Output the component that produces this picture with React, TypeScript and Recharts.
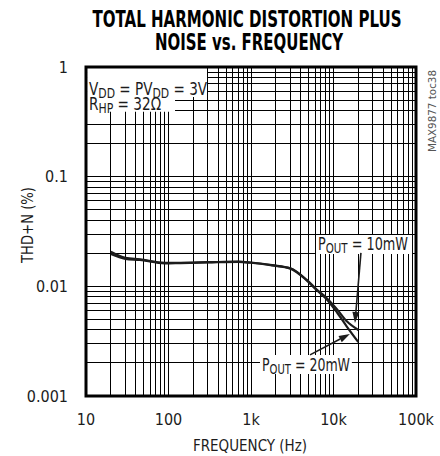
import {
  CartesianGrid,
  ComposedChart,
  Line,
  ReferenceArea,
  ReferenceDot,
  ReferenceLine,
  XAxis,
  YAxis,
} from 'recharts';

const freq = [20, 30, 45, 90, 140, 300, 700, 1000, 1800, 3000, 4700, 6300, 8300, 11000, 14500, 20000];
const thd10mW = [0.0207, 0.0182, 0.0176, 0.0164, 0.0164, 0.0166, 0.0168, 0.0165, 0.0156, 0.0146, 0.0115, 0.0093, 0.0078, 0.0062, 0.0048, 0.004];
const thd20mW = [0.0197, 0.0178, 0.0174, 0.0162, 0.0163, 0.0165, 0.0167, 0.0164, 0.0155, 0.0145, 0.0114, 0.0092, 0.0076, 0.0058, 0.0043, 0.0031];

const xTicks = [10, 100, 1000, 10000, 100000];
const xTickLabels = ['10', '100', '1k', '10k', '100k'];
const yTicks = [0.001, 0.01, 0.1, 1];
const yTickLabels = ['0.001', '0.01', '0.1', '1'];
const steps = [1, 2, 3, 4, 5, 6, 7, 8, 9];

const xGrid = [10, 100, 1000, 10000].flatMap((d) => steps.map((s) => s * d)).concat([100000]);
const yGrid = [0.001, 0.01, 0.1].flatMap((d) => steps.map((s) => +(s * d).toPrecision(3))).concat([1]);

const data = freq.map((f, i) => ({ f, p10: thd10mW[i], p20: thd20mW[i] }));

const FONT = "'Liberation Sans Narrow', 'DejaVu Sans Condensed', 'Arial Narrow', sans-serif";
const INK = '#1c1c1c';

type Part = { t: string; sub?: boolean };

function AnnotText({ cx, cy, parts, size, len }: { cx?: number; cy?: number; parts: Part[]; size: number; len?: number }) {
  if (cx == null || cy == null) return null;
  let shift = 0;
  return (
    <text x={cx} y={cy} fontFamily={FONT} fontSize={size} fill={INK} textLength={len} lengthAdjust="spacingAndGlyphs">
      {parts.map((p, i) => {
        const dy = p.sub ? 3 - shift : -shift;
        shift = p.sub ? 3 : 0;
        return (
          <tspan key={i} dy={dy} fontSize={p.sub ? size * 0.8 : size}>
            {p.t}
          </tspan>
        );
      })}
    </text>
  );
}

function Arrow(props: any) {
  const { x1, y1, x2, y2 } = props;
  if ([x1, y1, x2, y2].some((v) => v == null || isNaN(v))) return null;
  const dx = x2 - x1;
  const dy = y2 - y1;
  const l = Math.hypot(dx, dy);
  const ux = dx / l;
  const uy = dy / l;
  const hl = 11;
  const hw = 3.5;
  const bx = x2 - ux * hl;
  const by = y2 - uy * hl;
  return (
    <g>
      <line x1={x1} y1={y1} x2={bx} y2={by} stroke={INK} strokeWidth={1.6} />
      <polygon
        points={`${x2},${y2} ${bx - uy * hw},${by + ux * hw} ${bx + uy * hw},${by - ux * hw}`}
        fill={INK}
      />
    </g>
  );
}

export default function App() {
  return (
    <div style={{ position: 'absolute', left: 0, top: 0, width: 440, height: 456, background: '#fff' }}>
      <ComposedChart width={440} height={456} data={data} margin={{ top: 67, right: 24, bottom: 0, left: 0 }}>
        <CartesianGrid stroke="#000" strokeWidth={1} shapeRendering="crispEdges" verticalValues={xGrid} horizontalValues={yGrid} />
        <XAxis
          dataKey="f"
          type="number"
          scale="log"
          domain={[10, 100000]}
          allowDataOverflow
          ticks={xTicks}
          tickFormatter={(v: number) => xTickLabels[xTicks.indexOf(v)] ?? ''}
          height={60}
          tickLine={false}
          axisLine={false}
          tickMargin={12}
          tick={{ fill: INK, fontSize: 16, fontFamily: FONT }}
          interval={0}
        />
        <YAxis
          type="number"
          scale="log"
          domain={[0.001, 1]}
          allowDataOverflow
          ticks={yTicks}
          tickFormatter={(v: number) => yTickLabels[yTicks.indexOf(v)] ?? ''}
          width={86}
          tickLine={false}
          axisLine={false}
          tickMargin={12}
          tick={{ fill: INK, fontSize: 16, fontFamily: FONT }}
          interval={0}
        />
        <ReferenceArea x1={10.3} x2={293} y1={0.533} y2={0.98} fill="#fff" fillOpacity={1} stroke="none" />
        <ReferenceArea x1={10.3} x2={120} y1={0.39} y2={0.533} fill="#fff" fillOpacity={1} stroke="none" />
        <ReferenceArea x1={6140} x2={89500} y1={0.0197} y2={0.0294} fill="#fff" fillOpacity={1} stroke="none" />
        <ReferenceArea x1={1285} x2={16700} y1={0.00159} y2={0.00237} fill="#fff" fillOpacity={1} stroke="none" />
        <ReferenceArea x1={10} x2={100000} y1={0.001} y2={1} fill="none" stroke="#000" strokeWidth={3} />
        <Line dataKey="p10" type="monotone" stroke={INK} strokeWidth={2.2} dot={false} isAnimationActive={false} />
        <Line dataKey="p20" type="monotone" stroke={INK} strokeWidth={2.2} dot={false} isAnimationActive={false} />
        <ReferenceLine segment={[{ x: 21500, y: 0.0202 }, { x: 18200, y: 0.00464 }]} shape={Arrow} />
        <ReferenceLine segment={[{ x: 5190, y: 0.00237 }, { x: 15800, y: 0.00368 }]} shape={Arrow} />
        <ReferenceDot
          x={10.9}
          y={0.556}
          r={0}
          shape={(p: any) => (
            <AnnotText cx={p.cx} cy={p.cy} size={18} len={118} parts={[{ t: 'V' }, { t: 'DD', sub: true }, { t: ' = PV' }, { t: 'DD', sub: true }, { t: ' = 3V' }]} />
          )}
        />
        <ReferenceDot
          x={10.9}
          y={0.406}
          r={0}
          shape={(p: any) => (
            <AnnotText cx={p.cx} cy={p.cy} size={18} len={72} parts={[{ t: 'R' }, { t: 'HP', sub: true }, { t: ' = 32Ω' }]} />
          )}
        />
        <ReferenceDot
          x={6490}
          y={0.0215}
          r={0}
          shape={(p: any) => (
            <AnnotText cx={p.cx} cy={p.cy} size={18} len={90} parts={[{ t: 'P' }, { t: 'OUT', sub: true }, { t: ' = 10mW' }]} />
          )}
        />
        <ReferenceDot
          x={1360}
          y={0.00169}
          r={0}
          shape={(p: any) => (
            <AnnotText cx={p.cx} cy={p.cy} size={18} len={88} parts={[{ t: 'P' }, { t: 'OUT', sub: true }, { t: ' = 20mW' }]} />
          )}
        />
      </ComposedChart>
      <svg width={440} height={456} style={{ position: 'absolute', left: 0, top: 0, pointerEvents: 'none' }}>
        <text x={247} y={27} textAnchor="middle" fontFamily={FONT} fontWeight="bold" fontSize={23} fill="#000" textLength={309} lengthAdjust="spacingAndGlyphs">
          TOTAL HARMONIC DISTORTION PLUS
        </text>
        <text x={249} y={50} textAnchor="middle" fontFamily={FONT} fontWeight="bold" fontSize={23} fill="#000" textLength={188} lengthAdjust="spacingAndGlyphs">
          NOISE vs. FREQUENCY
        </text>
        <text transform="translate(33,225) rotate(-90)" textAnchor="middle" fontFamily={FONT} fontSize={16} fill={INK} textLength={76} lengthAdjust="spacingAndGlyphs">
          THD+N (%)
        </text>
        <text x={250} y={451} textAnchor="middle" fontFamily={FONT} fontSize={16} fill={INK} textLength={114} lengthAdjust="spacingAndGlyphs">
          FREQUENCY (Hz)
        </text>
        <text transform="translate(436,111) rotate(-90)" textAnchor="middle" fontFamily={FONT} fontSize={10} fill="#555" textLength={82} lengthAdjust="spacingAndGlyphs">
          MAX9877 toc38
        </text>
      </svg>
    </div>
  );
}
